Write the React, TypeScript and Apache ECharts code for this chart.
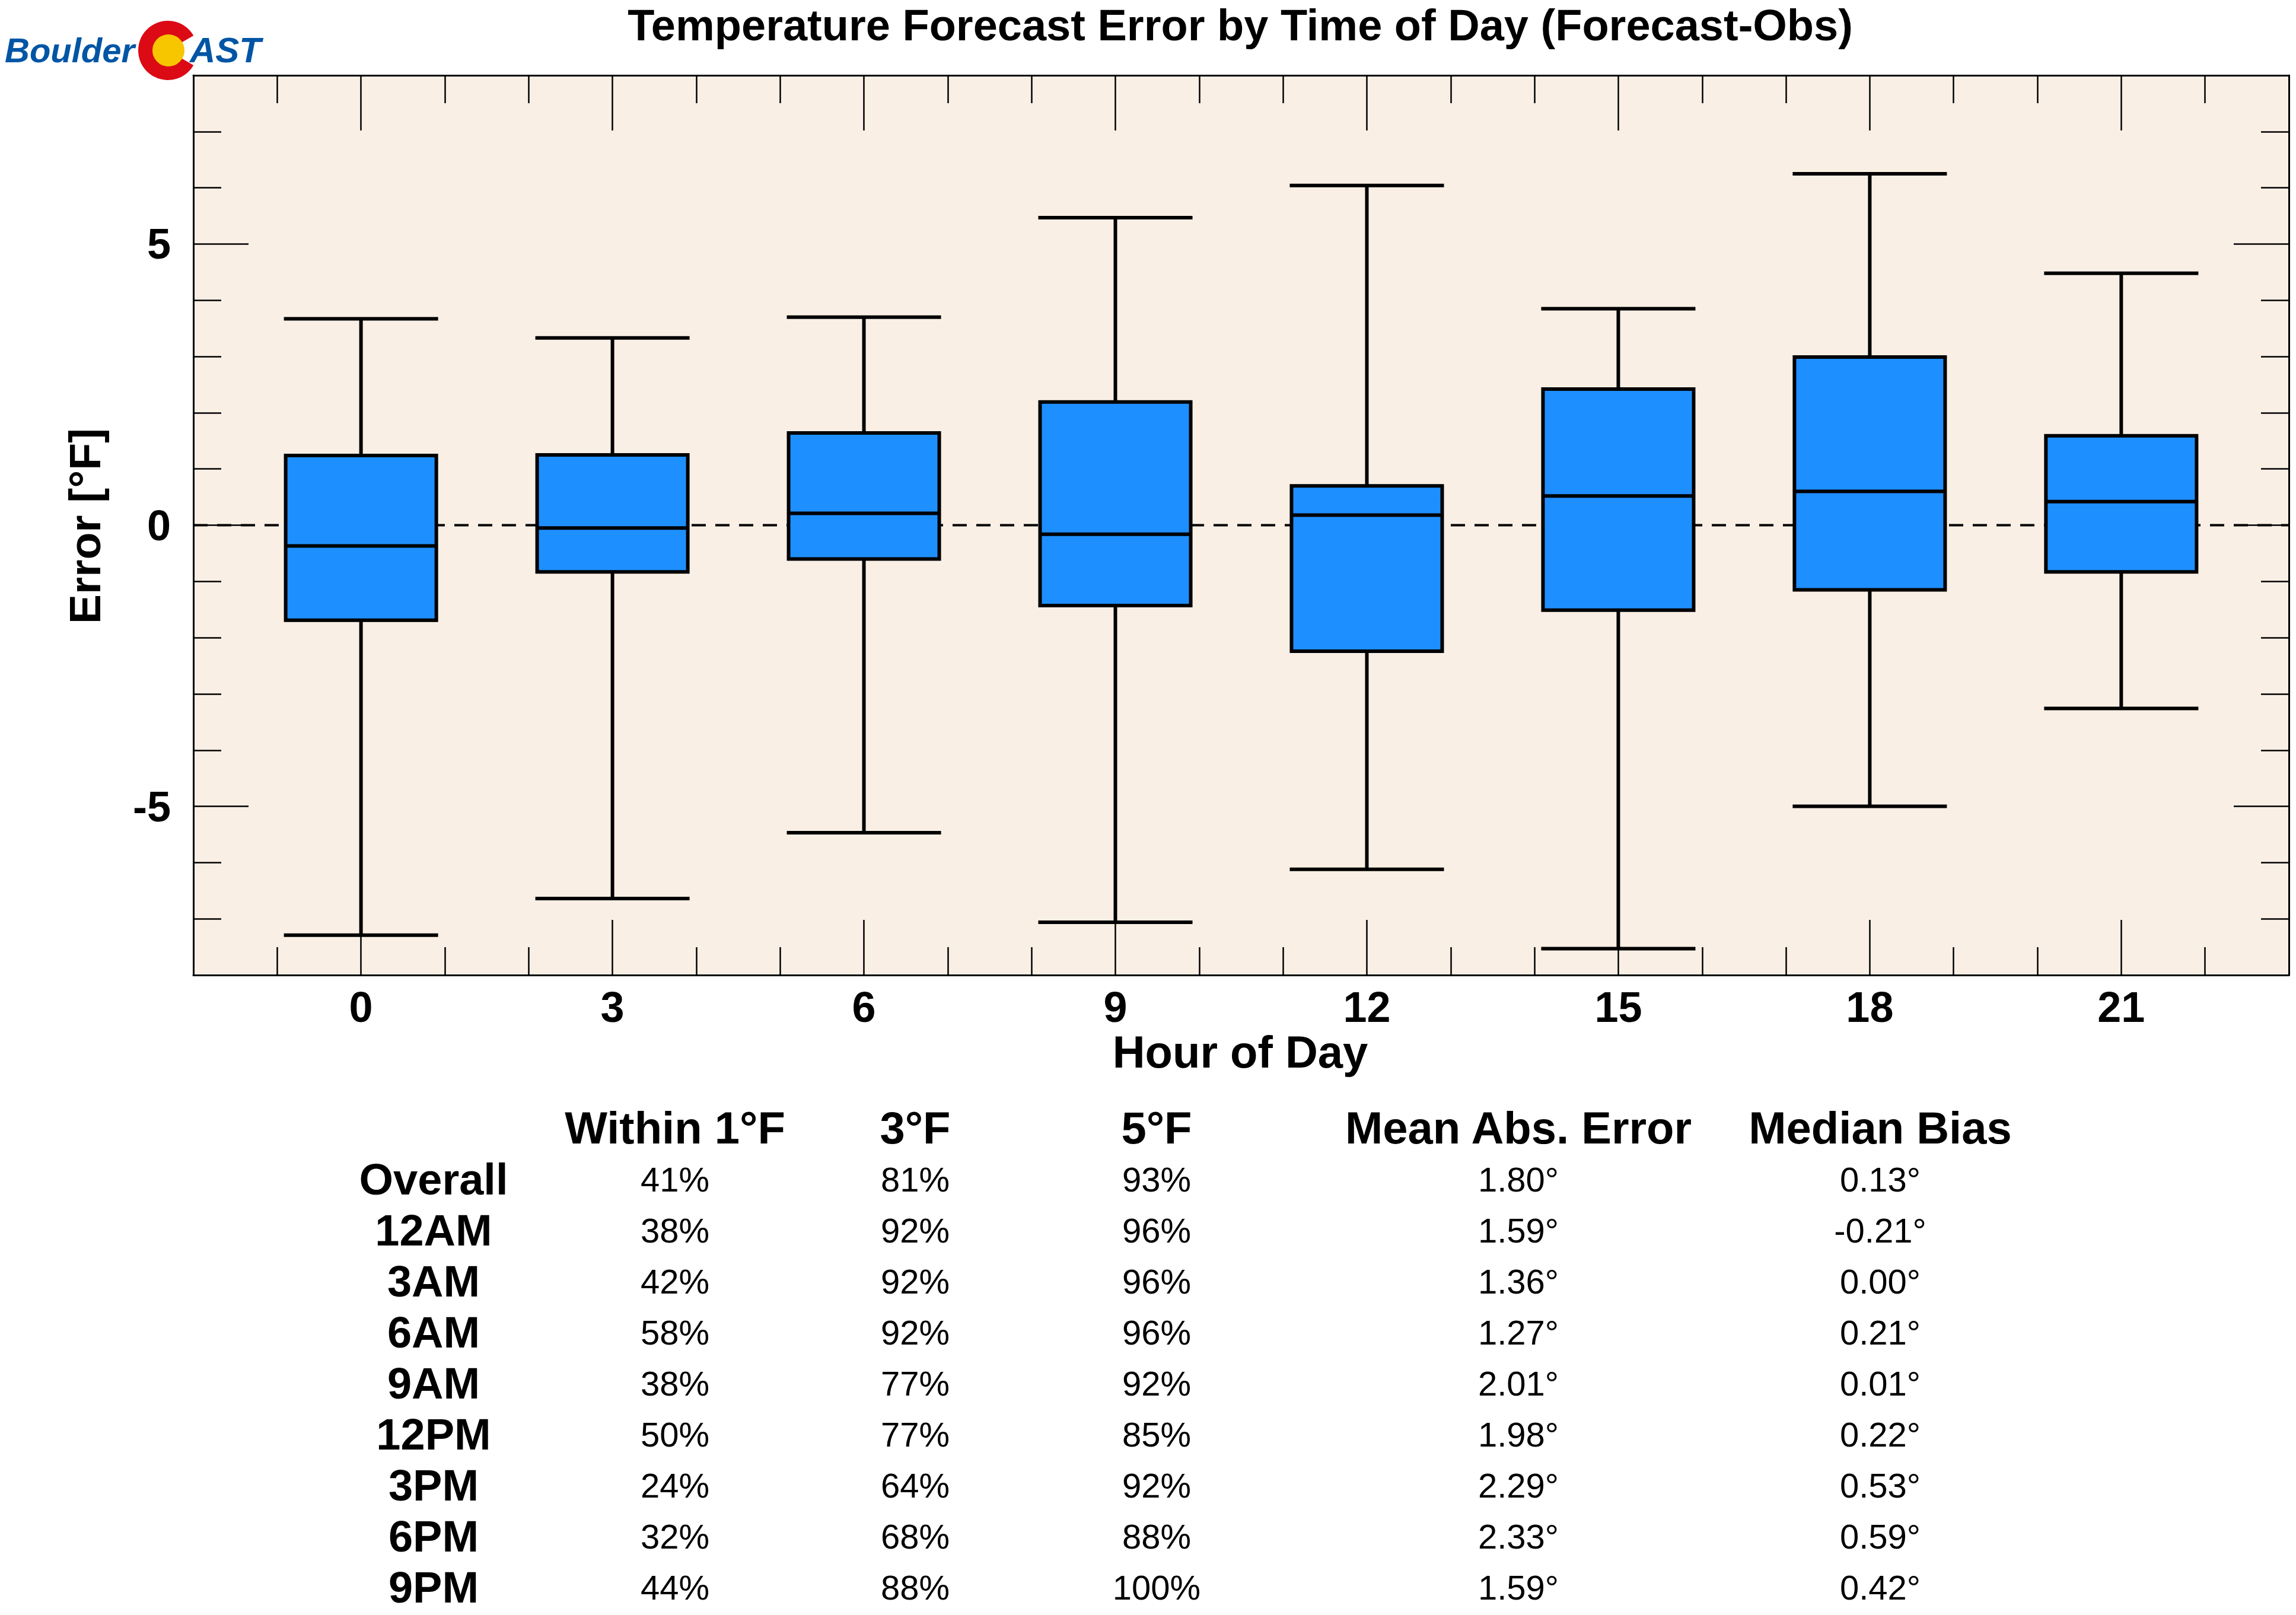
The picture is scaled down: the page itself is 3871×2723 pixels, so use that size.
import React, { useEffect, useRef } from "react";
import * as echarts from "echarts";

// ---- Box plot data (°F, forecast - observed) ----
const hours = [0, 3, 6, 9, 12, 15, 18, 21];
const whiskerLow = [-7.29, -6.64, -5.47, -7.06, -6.12, -7.53, -5.0, -3.26];
const quartile1 = [-1.69, -0.83, -0.6, -1.43, -2.24, -1.51, -1.15, -0.83];
const medians = [-0.37, -0.05, 0.21, -0.16, 0.18, 0.52, 0.6, 0.42];
const quartile3 = [1.24, 1.25, 1.64, 2.19, 0.7, 2.42, 2.99, 1.59];
const whiskerHigh = [3.67, 3.33, 3.7, 5.47, 6.04, 3.85, 6.25, 4.48];
const zeroLine = [
  [-2, 0],
  [23, 0],
];

// ---- Axis ticks ----
const xMajorTicks = [0, 3, 6, 9, 12, 15, 18, 21];
const xMinorTicks = [-1, 1, 2, 4, 5, 7, 8, 10, 11, 13, 14, 16, 17, 19, 20, 22];
const yMajorTicks = [-5, 0, 5];
const yMinorTicks = [-7, -6, -4, -3, -2, -1, 1, 2, 3, 4, 6, 7];

// ---- Table ----
const tableHeaders = ["Within 1°F", "3°F", "5°F", "Mean Abs. Error", "Median Bias"];
const rowLabels = ["Overall", "12AM", "3AM", "6AM", "9AM", "12PM", "3PM", "6PM", "9PM"];
const within1 = [41, 38, 42, 58, 38, 50, 24, 32, 44];
const within3 = [81, 92, 92, 92, 77, 77, 64, 68, 88];
const within5 = [93, 96, 96, 96, 92, 85, 92, 88, 100];
const meanAbsError = [1.8, 1.59, 1.36, 1.27, 2.01, 1.98, 2.29, 2.33, 1.59];
const medianBias = [0.13, -0.21, 0.0, 0.21, 0.01, 0.22, 0.53, 0.59, 0.42];

const FONT = '"Liberation Sans", Arial, Helvetica, sans-serif';
const BOX_WIDTH = 1.84;
const BOX_FILL = "#1E8FFF";

function renderBox(params: any, api: any) {
  const x = api.value(0);
  const pl = api.coord([x, api.value(1)]);
  const p1 = api.coord([x, api.value(2)]);
  const pm = api.coord([x, api.value(3)]);
  const p3 = api.coord([x, api.value(4)]);
  const ph = api.coord([x, api.value(5)]);
  const w = api.size([BOX_WIDTH, 0])[0];
  const cx = pl[0];
  const ls = { stroke: "#000", lineWidth: 6 };
  return {
    type: "group",
    children: [
      { type: "line", shape: { x1: cx, y1: ph[1], x2: cx, y2: p3[1] }, style: ls },
      { type: "line", shape: { x1: cx - w / 2, y1: ph[1], x2: cx + w / 2, y2: ph[1] }, style: ls },
      { type: "line", shape: { x1: cx, y1: p1[1], x2: cx, y2: pl[1] }, style: ls },
      { type: "line", shape: { x1: cx - w / 2, y1: pl[1], x2: cx + w / 2, y2: pl[1] }, style: ls },
      {
        type: "rect",
        shape: { x: cx - w / 2 + 3, y: p3[1], width: w - 6, height: p1[1] - p3[1] },
        style: { fill: BOX_FILL, stroke: "#000", lineWidth: 6 },
      },
      { type: "line", shape: { x1: cx - w / 2 + 3, y1: pm[1], x2: cx + w / 2 - 3, y2: pm[1] }, style: ls },
    ],
  };
}

function makeXAxis(position: string, ticks: number[], len: number, major: boolean, labels: boolean) {
  return {
    type: "value",
    position,
    min: -2,
    max: 23,
    axisLine: { show: major, onZero: false, lineStyle: { color: "#000", width: 3 } },
    axisTick: { show: true, inside: true, length: len, customValues: ticks, lineStyle: { color: "#000", width: 2.5 } },
    axisLabel: labels
      ? { show: true, customValues: ticks, margin: 18, fontSize: 72, fontWeight: "bold", fontFamily: FONT, color: "#000" }
      : { show: false },
    splitLine: { show: false },
  };
}

function makeYAxis(position: string, ticks: number[], len: number, major: boolean, labels: boolean) {
  return {
    type: "value",
    position,
    min: -8,
    max: 8,
    axisLine: { show: major, onZero: false, lineStyle: { color: "#000", width: 3 } },
    axisTick: { show: true, inside: true, length: len, customValues: ticks, lineStyle: { color: "#000", width: 2.5 } },
    axisLabel: labels
      ? { show: true, customValues: ticks, margin: 38, fontSize: 72, fontWeight: "bold", fontFamily: FONT, color: "#000" }
      : { show: false },
    splitLine: { show: false },
  };
}

function buildTable() {
  const colX = [1138, 1543, 1950, 2560, 3170];
  const labelX = 731;
  const headerY = 1901;
  const rowY0 = 1988;
  const rowStep = 86;
  const els: any[] = [];
  tableHeaders.forEach((h, i) => {
    els.push({
      type: "text",
      x: colX[i],
      y: headerY,
      style: { text: h, align: "center", verticalAlign: "middle", fontSize: 76, lineHeight: 62, fontWeight: "bold", fontFamily: FONT, fill: "#000" },
    });
  });
  rowLabels.forEach((r, j) => {
    const y = rowY0 + j * rowStep;
    els.push({
      type: "text",
      x: labelX,
      y,
      style: { text: r, align: "center", verticalAlign: "middle", fontSize: 74, lineHeight: 60, fontWeight: "bold", fontFamily: FONT, fill: "#000" },
    });
    const vals = [
      within1[j] + "%",
      within3[j] + "%",
      within5[j] + "%",
      meanAbsError[j].toFixed(2) + "°",
      medianBias[j].toFixed(2) + "°",
    ];
    vals.forEach((v, i) => {
      els.push({
        type: "text",
        x: colX[i],
        y,
        style: { text: v, align: "center", verticalAlign: "middle", fontSize: 58, lineHeight: 50, fontFamily: FONT, fill: "#000" },
      });
    });
  });
  return els;
}

export default function App() {
  const ref = useRef<HTMLDivElement>(null);
  useEffect(() => {
    if (!ref.current) return;
    const chart = echarts.init(ref.current, null, { renderer: "svg" });
    const boxData = hours.map((h, i) => [h, whiskerLow[i], quartile1[i], medians[i], quartile3[i], whiskerHigh[i]]);
    const option: any = {
      animation: false,
      backgroundColor: "#fff",
      grid: {
        left: 326,
        right: 12,
        top: 127,
        bottom: 1079,
        show: true,
        backgroundColor: "#F9EFE5",
        borderWidth: 0,
        containLabel: false,
        outerBoundsMode: "none",
      },
      xAxis: [
        makeXAxis("bottom", xMajorTicks, 93, true, true),
        makeXAxis("bottom", xMinorTicks, 47, false, false),
        makeXAxis("top", xMajorTicks, 93, true, false),
        makeXAxis("top", xMinorTicks, 47, false, false),
      ],
      yAxis: [
        makeYAxis("left", yMajorTicks, 93, true, true),
        makeYAxis("left", yMinorTicks, 47, false, false),
        makeYAxis("right", yMajorTicks, 93, true, false),
        makeYAxis("right", yMinorTicks, 47, false, false),
      ],
      series: [
        {
          type: "line",
          xAxisIndex: 0,
          yAxisIndex: 0,
          data: zeroLine,
          symbol: "none",
          silent: true,
          z: 1,
          lineStyle: { color: "#000", width: 4, type: [24, 16] },
        },
        {
          type: "custom",
          xAxisIndex: 0,
          yAxisIndex: 0,
          data: boxData,
          encode: { x: 0, y: [1, 2, 3, 4, 5] },
          renderItem: renderBox,
          z: 2,
        },
      ],
      graphic: [
        {
          type: "text",
          x: 2091,
          y: 42,
          style: {
            text: "Temperature Forecast Error by Time of Day (Forecast-Obs)",
            align: "center",
            verticalAlign: "middle",
            fontSize: 74,
            fontWeight: "bold",
            fontFamily: FONT,
            fill: "#000",
          },
        },
        {
          type: "text",
          x: 2091,
          y: 1773,
          style: { text: "Hour of Day", align: "center", verticalAlign: "middle", fontSize: 76, fontWeight: "bold", fontFamily: FONT, fill: "#000" },
        },
        {
          type: "text",
          x: 143,
          y: 887,
          rotation: Math.PI / 2,
          style: { text: "Error [°F]", align: "center", verticalAlign: "middle", fontSize: 75, fontWeight: "bold", fontFamily: FONT, fill: "#000" },
        },
        // logo
        {
          type: "text",
          x: 8,
          y: 84,
          style: { text: "Boulder", align: "left", verticalAlign: "middle", fontSize: 58, fontWeight: "bold", fontStyle: "italic", fontFamily: FONT, fill: "#0055A5" },
        },
        {
          type: "sector",
          shape: { cx: 283, cy: 85, r: 50, r0: 0, startAngle: Math.PI / 6, endAngle: 2 * Math.PI - Math.PI / 6, clockwise: true },
          style: { fill: "#DB0A15" },
        },
        { type: "circle", shape: { cx: 284, cy: 85, r: 27 }, style: { fill: "#F7C600" } },
        {
          type: "text",
          x: 320,
          y: 84,
          style: { text: "AST", align: "left", verticalAlign: "middle", fontSize: 60, fontWeight: "bold", fontStyle: "italic", fontFamily: FONT, fill: "#0055A5" },
        },
        ...buildTable(),
      ],
    };
    chart.setOption(option);
    return () => chart.dispose();
  }, []);
  return <div ref={ref} style={{ position: "absolute", left: 0, top: 0, width: 3871, height: 2723 }} />;
}
